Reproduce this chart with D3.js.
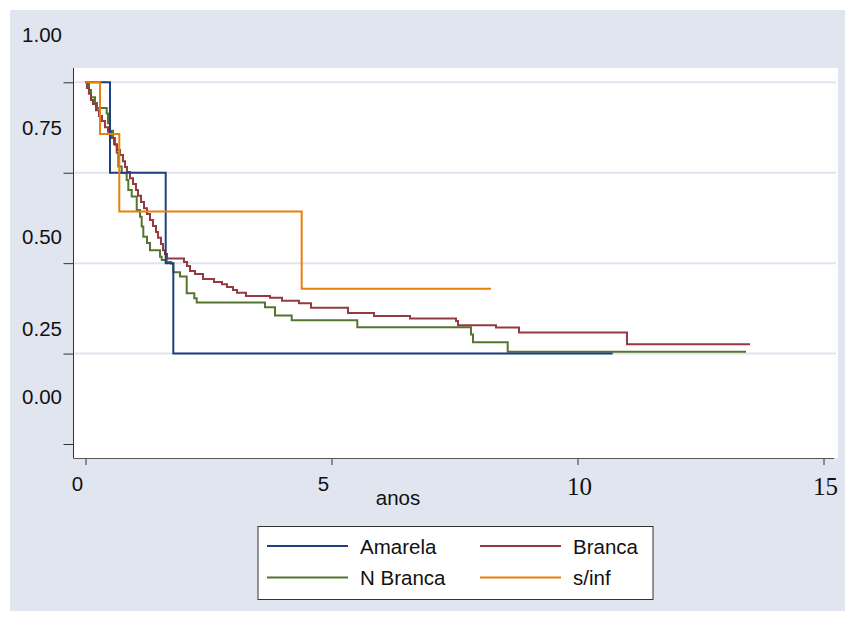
<!DOCTYPE html>
<html lang="pt">
<head>
<meta charset="utf-8">
<title>Kaplan-Meier</title>
<script src="https://d3js.org/d3.v7.js"></script>
<style>
  body { margin: 0; background: #fff; }
</style>
</head>
<body>
<script>

// groups
var groups = ["Amarela", "Branca", "N Branca", "s/inf"];

// survival steps: [time in years, survival after the drop]
var amarela = [[0, 1], [0.498, 0.75], [1.630, 0.5], [1.785, 0.25]];
var amarelaEnd = 10.715;

var branca = [[0, 1],
  [0.030, 0.984], [0.071, 0.968], [0.112, 0.951], [0.152, 0.940], [0.213, 0.923],
  [0.274, 0.907], [0.335, 0.893], [0.396, 0.876], [0.457, 0.863], [0.518, 0.846],
  [0.579, 0.829], [0.640, 0.813], [0.701, 0.799], [0.762, 0.782], [0.803, 0.766],
  [0.843, 0.752], [0.904, 0.735], [0.965, 0.719], [1.026, 0.702], [1.067, 0.686],
  [1.128, 0.669], [1.189, 0.652], [1.250, 0.636], [1.311, 0.619], [1.372, 0.603],
  [1.433, 0.586], [1.474, 0.570], [1.535, 0.553], [1.575, 0.536], [1.616, 0.525],
  [1.657, 0.513], [2.002, 0.503], [2.063, 0.492], [2.124, 0.478], [2.226, 0.470],
  [2.388, 0.456], [2.612, 0.448], [2.774, 0.442], [2.876, 0.434], [2.998, 0.426],
  [3.079, 0.418], [3.262, 0.409], [3.750, 0.404], [3.994, 0.396], [4.339, 0.389],
  [4.583, 0.377], [5.335, 0.362], [5.864, 0.354], [6.596, 0.347], [7.530, 0.340],
  [7.571, 0.328], [8.343, 0.322], [8.811, 0.308], [11.006, 0.276]];
var brancaEnd = 13.506;

var nBranca = [[0, 1],
  [0.071, 0.979], [0.112, 0.959], [0.193, 0.943], [0.234, 0.929], [0.431, 0.914],
  [0.457, 0.887], [0.498, 0.866], [0.559, 0.846], [0.600, 0.827], [0.634, 0.805],
  [0.667, 0.767], [0.736, 0.749], [0.837, 0.730], [0.870, 0.702], [0.939, 0.684],
  [1.041, 0.647], [1.108, 0.628], [1.142, 0.601], [1.175, 0.573], [1.250, 0.556],
  [1.311, 0.536], [1.514, 0.518], [1.549, 0.509], [1.650, 0.503], [1.738, 0.499],
  [1.785, 0.475], [1.921, 0.463], [2.057, 0.417], [2.211, 0.403], [2.260, 0.391],
  [3.648, 0.378], [3.852, 0.355], [4.191, 0.342], [5.524, 0.323], [7.835, 0.303],
  [7.876, 0.281], [8.581, 0.255]];
var nBrancaEnd = 13.425;

var sInf = [[0, 1], [0.295, 0.857], [0.687, 0.643], [4.394, 0.429]];
var sInfEnd = 8.242;

// axes
var xTicks = [0, 5, 10, 15];
var yTicks = [0, 0.25, 0.5, 0.75, 1];
var yGrid = [0.25, 0.5, 0.75, 1];
var yLabels = ["1.00", "0.75", "0.50", "0.25", "0.00"];
var yLabelAt = [1.111, 0.854, 0.552, 0.298, 0.111];

var w = 845, h = 621;
var colors = ["#1d4180", "#953a40", "#55752f", "#e8800a"];
var sans = "'Liberation Sans', Arial, sans-serif";
var serif = "'Liberation Serif', 'Times New Roman', serif";

var svg = d3.select("body").append("svg")
  .attr("width", w)
  .attr("height", h);

// graph region
svg.append("rect")
  .attr("x", 10).attr("y", 10)
  .attr("width", w - 10).attr("height", h - 20)
  .attr("fill", "#e1e5f0");

var plot = {left: 73.5, top: 68, right: 838, bottom: 458};

svg.append("rect")
  .attr("x", plot.left).attr("y", plot.top)
  .attr("width", plot.right - plot.left)
  .attr("height", plot.bottom - plot.top)
  .attr("fill", "#fff");

var xScale = d3.scaleLinear().domain([0, 15]).range([85.5, 823.5]);
var yScale = d3.scaleLinear().domain([0, 1]).range([444, 82.3]);

// gridlines
svg.append("g").selectAll("line")
  .data(yGrid)
  .enter()
  .append("line")
  .attr("x1", plot.left + 1).attr("x2", 836)
  .attr("y1", d => yScale(d)).attr("y2", d => yScale(d))
  .attr("stroke", "#dfe4ef")
  .attr("stroke-width", 2);

// curves
var line = d3.line()
  .x(d => xScale(d[0]))
  .y(d => yScale(d[1]))
  .curve(d3.curveStepAfter);

var series = [
  {pts: amarela, end: amarelaEnd},
  {pts: branca, end: brancaEnd},
  {pts: nBranca, end: nBrancaEnd},
  {pts: sInf, end: sInfEnd}
];

// draw order: green, red, blue, orange on top
[2, 1, 0, 3].forEach(function(i) {
  var s = series[i];
  var pts = s.pts.concat([[s.end, s.pts[s.pts.length - 1][1]]]);
  svg.append("path")
    .attr("d", line(pts))
    .attr("fill", "none")
    .attr("stroke", colors[i])
    .attr("stroke-width", 2);
});

// y axis
var yAxis = d3.axisLeft(yScale)
  .tickValues(yTicks)
  .tickSize(10)
  .tickFormat("");

var gy = svg.append("g")
  .attr("transform", `translate(${plot.left},0)`)
  .call(yAxis);
gy.select(".domain").remove();
gy.selectAll(".tick line").attr("stroke", "#333");
gy.append("line")
  .attr("x1", 0).attr("x2", 0)
  .attr("y1", plot.top).attr("y2", plot.bottom)
  .attr("stroke", "#333");

svg.append("g").selectAll("text")
  .data(yLabels)
  .enter()
  .append("text")
  .attr("x", 62)
  .attr("y", (d, i) => yScale(yLabelAt[i]))
  .attr("text-anchor", "end")
  .style("font-family", sans)
  .style("font-size", "20.5px")
  .attr("fill", "#111")
  .text(d => d);

// x axis
var xAxis = d3.axisBottom(xScale)
  .tickValues(xTicks)
  .tickSize(7)
  .tickFormat("");

var gx = svg.append("g")
  .attr("transform", `translate(0,${plot.bottom})`)
  .call(xAxis);
gx.select(".domain").remove();
gx.selectAll(".tick line").attr("stroke", "#333");
gx.append("line")
  .attr("x1", plot.left).attr("x2", plot.right - 4)
  .attr("y1", 0.5).attr("y2", 0.5)
  .attr("stroke", "#555");

svg.append("g").selectAll("text")
  .data(xTicks)
  .enter()
  .append("text")
  .attr("x", d => xScale(d) + (d < 10 ? -8 : 2))
  .attr("y", d => d < 10 ? 491 : 495)
  .attr("text-anchor", "middle")
  .style("font-family", d => d < 10 ? sans : serif)
  .style("font-size", d => d < 10 ? "20.5px" : "25px")
  .attr("fill", "#111")
  .text(d => d);

svg.append("text")
  .attr("x", 398).attr("y", 505)
  .attr("text-anchor", "middle")
  .style("font-family", sans)
  .style("font-size", "20.5px")
  .attr("fill", "#111")
  .text("anos");

// legend
var legend = svg.append("g");
legend.append("rect")
  .attr("x", 258).attr("y", 526.5)
  .attr("width", 395).attr("height", 73)
  .attr("fill", "#fff")
  .attr("stroke", "#333");

var items = legend.selectAll("g.item")
  .data(groups)
  .enter()
  .append("g")
  .attr("class", "item")
  .attr("transform", (d, i) => `translate(${i % 2 ? 480 : 267},${i < 2 ? 546 : 577.5})`);

items.append("line")
  .attr("x1", 0).attr("x2", 81)
  .attr("stroke", (d, i) => colors[i])
  .attr("stroke-width", 2);

items.append("text")
  .attr("x", 93).attr("y", 7.5)
  .style("font-family", sans)
  .style("font-size", "20.5px")
  .attr("fill", "#111")
  .text(d => d);

</script>
</body>
</html>
